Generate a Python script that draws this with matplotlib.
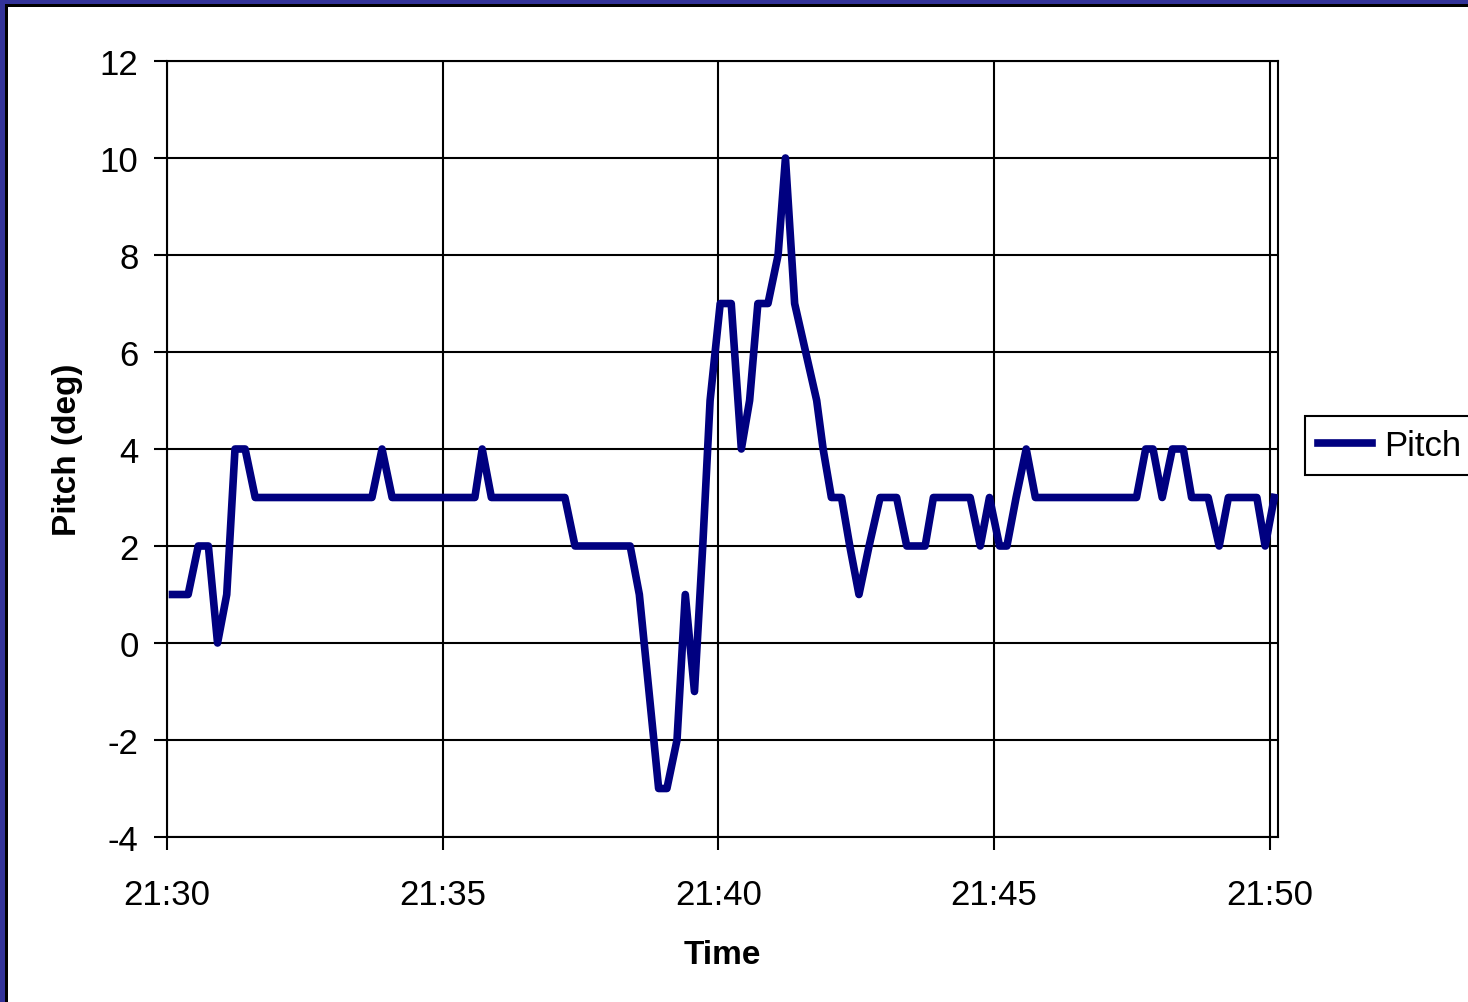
import matplotlib
matplotlib.use("Agg")
import matplotlib.pyplot as plt
import matplotlib.dates as mdates
import matplotlib.patches as mpatches
import pandas as pd

# ── Data ──────────────────────────────────────────────────────────────────────
TIMES = [
    "21:30:06", "21:30:23", "21:30:34", "21:30:45", "21:30:55", "21:31:05",
    "21:31:14", "21:31:25", "21:31:36", "21:33:43", "21:33:54", "21:34:05",
    "21:35:35", "21:35:43", "21:35:53", "21:37:13", "21:37:24", "21:38:24",
    "21:38:34", "21:38:55", "21:39:04", "21:39:15", "21:39:24", "21:39:34",
    "21:39:43", "21:39:51", "21:40:02", "21:40:14", "21:40:25", "21:40:34",
    "21:40:43", "21:40:54", "21:41:05", "21:41:13", "21:41:23", "21:41:35",
    "21:41:47", "21:41:54", "21:42:03", "21:42:14", "21:42:23", "21:42:33",
    "21:42:44", "21:42:56", "21:43:14", "21:43:25", "21:43:45", "21:43:54",
    "21:44:34", "21:44:45", "21:44:55", "21:45:06", "21:45:14", "21:45:24",
    "21:45:35", "21:45:45", "21:47:35", "21:47:45", "21:47:53", "21:48:03",
    "21:48:14", "21:48:26", "21:48:35", "21:48:53", "21:49:05", "21:49:15",
    "21:49:46", "21:49:55", "21:50:05",
]
PITCH = [
    1, 1, 2, 2, 0, 1,
    4, 4, 3, 3, 4, 3,
    3, 4, 3, 3, 2, 2,
    1, -3, -3, -2, 1, -1,
    2, 5, 7, 7, 4, 5,
    7, 7, 8, 10, 7, 6,
    5, 4, 3, 3, 2, 1,
    2, 3, 3, 2, 2, 3,
    3, 2, 3, 2, 2, 3,
    4, 3, 3, 4, 4, 3,
    4, 4, 3, 3, 2, 3,
    3, 2, 3,
]
X_START, X_END = "21:30:00", "21:50:09"
Y_TICKS = [-4, -2, 0, 2, 4, 6, 8, 10, 12]

# ── Style ─────────────────────────────────────────────────────────────────────
LINE_C = "#000080"
FRAME_C = "#333399"
plt.rcParams.update({
    "font.family": ["Liberation Sans", "DejaVu Sans"],
    "font.size": 25,
    "axes.unicode_minus": False,
})

BASE = "2000-01-01 "
t = pd.to_datetime([BASE + s for s in TIMES])

W, H = 1468, 1003
fig = plt.figure(figsize=(W / 100, H / 100), dpi=100)
ax = fig.add_axes([167 / W, 1 - 838 / H, (1278 - 167) / W, (838 - 62) / H])

ax.plot(t, PITCH, color=LINE_C, linewidth=5.5, label="Pitch",
        solid_joinstyle="round", zorder=3)

ax.set_xlim(pd.Timestamp(BASE + X_START), pd.Timestamp(BASE + X_END))
ax.set_ylim(-4, 12)
ax.set_yticks(Y_TICKS)
ax.xaxis.set_major_locator(mdates.MinuteLocator(byminute=range(0, 60, 5)))
ax.xaxis.set_major_formatter(mdates.DateFormatter("%H:%M"))

ax.grid(True, color="black", linewidth=1.5, zorder=0)
ax.set_axisbelow(True)
for sp in ax.spines.values():
    sp.set_linewidth(1.5)
    sp.set_color("black")
ax.tick_params(direction="out", length=9.5, width=1.5, labelsize=25)
ax.tick_params(axis="x", pad=20)
ax.tick_params(axis="y", pad=11)

ax.set_xlabel("Time", fontweight="bold", fontsize=24, labelpad=20)
ax.set_ylabel("Pitch (deg)", fontweight="bold", fontsize=24, labelpad=12)

fig.legend(loc="center left", bbox_to_anchor=(1305 / W, 1 - 446.5 / H),
           frameon=True, fancybox=False, edgecolor="black", framealpha=1,
           fontsize=25, handlelength=1.55, handletextpad=0.35,
           borderpad=0.38, borderaxespad=0)
fig.legends[0].get_frame().set_linewidth(1.5)

# slide frame: blue band with black inner line on top and left
fig.add_artist(mpatches.Rectangle((0, 1 - 5 / H), 1, 5 / H, transform=fig.transFigure,
                                  color=FRAME_C, lw=0))
fig.add_artist(mpatches.Rectangle((0, 0), 5 / W, 1, transform=fig.transFigure,
                                  color=FRAME_C, lw=0))
fig.add_artist(mpatches.Rectangle((5 / W, 1 - 8 / H), 1, 3 / H, transform=fig.transFigure,
                                  color="black", lw=0))
fig.add_artist(mpatches.Rectangle((5 / W, 0), 3 / W, 1 - 5 / H, transform=fig.transFigure,
                                  color="black", lw=0))

fig.savefig("out.png", dpi=100)
